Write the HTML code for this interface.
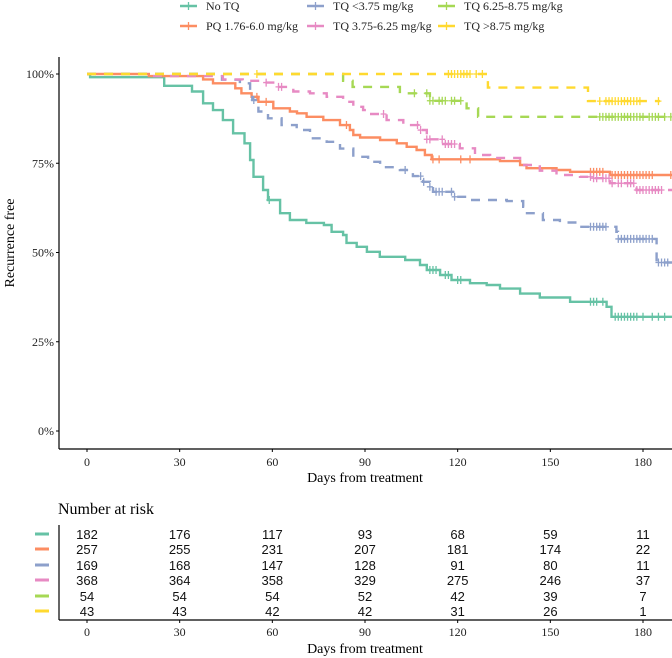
<!DOCTYPE html>
<html><head><meta charset="utf-8">
<style>
html,body{margin:0;padding:0;background:#fff;}
svg{display:block;}
.serif{font-family:"Liberation Serif",serif;}
.sans{font-family:"Liberation Sans",sans-serif;}
</style></head>
<body>
<svg id="chart" width="672" height="658" viewBox="0 0 672 658" xmlns="http://www.w3.org/2000/svg">
<g id="legend"></g>
<g id="plot"></g>
<g id="risk"></g>
</svg>
<script>
// ---- data ----
const seriesNames = ["No TQ","PQ 1.76-6.0 mg/kg","TQ <3.75 mg/kg","TQ 3.75-6.25 mg/kg","TQ 6.25-8.75 mg/kg","TQ >8.75 mg/kg"];
const seriesColors = ["#66c2a5","#fc8d62","#8da0cb","#e78ac3","#a6d854","#ffd92f"];
const seriesDashed = [false,false,true,true,true,true];
const endDays = [189.4,189.4,189.4,189.4,189.4,185.5];

const noTqTimes = [1,25,34,37.6,40.8,44,47.3,51,52.8,53.9,57,58.6,62.5,65.7,71,76.7,79.2,82.9,84,87.3,90.6,94.8,103,107.8,110,114.3,118,124,129.4,133.7,140.2,146.6,156.4,168.2,169.8];
const noTqSurv = [99.1,96.7,95.1,91.8,89.9,87.1,83.4,80.6,75.9,71.2,67.5,64.7,61,59.1,58.3,57.7,55.8,54.9,52.7,51.6,50.2,48.8,47.9,46.5,45.1,43.7,42.3,41.4,40.9,39.9,38.5,37.4,36.2,34.8,32];
const noTqCens = [59,111,112,113,116,117,120,121,163,164,165,167,171,172,173,174,175,176,177,178,180,183,185,187];

const pqTimes = [20,37.6,40.8,48,50,53.3,55.5,60.3,65.7,68,71.1,76.5,81.9,85.1,86.2,88.4,94.9,100.3,103.5,106.7,109.4,111.6,133.7,140.2,142.3,152,156.4,169.3];
const pqSurv = [99.4,98.5,97.4,96,94.6,93.6,92.2,90.4,89.5,89,88,87.1,85.7,84.3,82.9,82.2,81.5,80.6,79.6,78.7,77.3,76.1,75.6,74.5,73.6,73.1,72.6,71.7];
const pqCens = [55,58,84,112,114,121,124,163,164,165,166,167,170,171,172,173,174,175,176,177,178,179,180,181,182,183,189];

const tq1Times = [43.7,49.5,52.8,53.5,55.5,58.6,63,67.9,72.2,77.6,81.9,86.2,91,94.9,101.3,105.5,108.8,111,112,118.5,124,135.9,141.2,142,147.6,153.1,158.5,171.4,171.9,184.4];
const tq1Surv = [98.4,97.4,94.1,92.7,89.5,87.6,85.7,84.3,82,81,79.1,76.8,75.4,73.9,73.1,71.4,69.8,68.4,67,65.6,64.7,64.4,62.8,61,59.1,58.4,57.2,55.8,53.8,47.2];
const tq1Cens = [54,103,108,109,111,113,114,115,118,119,163,164,165,166,167,168,172,173,174,175,176,177,178,179,180,181,182,183,185,186,187,188];

const tq2Times = [20,44,50.4,56,61.4,66.8,72.2,77.6,82.9,86.2,89.4,91.6,97,102.4,107.2,110,115.3,120.7,125.6,130.5,140.2,146.6,152,159.6,163.8,169.3,177.9];
const tq2Surv = [99.4,98.5,98.1,97.6,96.4,95.1,94.6,93.6,92.2,90.8,89.9,88.8,87.1,85.7,84.3,81.7,80.4,79.2,77.3,76.5,74.5,72.9,71.7,71.2,70.8,69.4,67.5];
const tq2Cens = [58,62,63,96,107,108,110,111,115,116,117,118,119,163,164,165,167,168,169,170,172,173,175,176,177,178,179,180,181,182,183,184,185,186];

const tq3Times = [82.9,86,101.3,111,122.9,126.6];
const tq3Surv = [98.1,96.4,94.6,92.5,90.4,88];
const tq3Cens = [106,110,111,112,114,115,116,118,119,121,166,167,168,169,170,171,172,173,174,175,176,177,178,179,180,182,183,184,185,187,189];

const tq4Times = [129.8,162.2];
const tq4Surv = [96.2,92.4];
const tq4Cens = [55,117,118,119,120,121,122,123,124,126,128,166,168,169,170,171,172,173,174,175,176,177,178,179,185];

const allTimes = [noTqTimes,pqTimes,tq1Times,tq2Times,tq3Times,tq4Times];
const allSurv = [noTqSurv,pqSurv,tq1Surv,tq2Surv,tq3Surv,tq4Surv];
const allCens = [noTqCens,pqCens,tq1Cens,tq2Cens,tq3Cens,tq4Cens];

const xTickValues = [0,30,60,90,120,150,180];
const yTickValues = [0,25,50,75,100];
const yTickLabels = ["0%","25%","50%","75%","100%"];
const riskNoTq = [182,176,117,93,68,59,11];
const riskPq = [257,255,231,207,181,174,22];
const riskTq1 = [169,168,147,128,91,80,11];
const riskTq2 = [368,364,358,329,275,246,37];
const riskTq3 = [54,54,54,52,42,39,7];
const riskTq4 = [43,43,42,42,31,26,1];
const riskRows = [riskNoTq,riskPq,riskTq1,riskTq2,riskTq3,riskTq4];

// ---- scales ----
const NS="http://www.w3.org/2000/svg";
const xS = d => 87 + d*(643-87)/180;
const yS = s => 431 - s*3.57;
function mk(tag, attrs, parent){const e=document.createElementNS(NS,tag);for(const k in attrs)e.setAttribute(k,attrs[k]);parent.appendChild(e);return e;}
function stepSurv(times,surv,t){let s=100;for(let i=0;i<times.length;i++){if(times[i]<=t)s=surv[i];}return s;}

const plot=document.getElementById('plot');
// axes
let ax=mk('line',{x1:59,y1:449,x2:672,y2:449,stroke:'#000','stroke-width':1.2},plot);


let ay=mk('line',{x1:59,y1:57,x2:59,y2:449,stroke:'#000','stroke-width':1.2},plot);


xTickValues.forEach(v=>{
  mk('line',{x1:xS(v),y1:449,x2:xS(v),y2:452,stroke:'#000'},plot);
  const t=mk('text',{x:xS(v),y:466,'text-anchor':'middle','font-size':12,class:'serif',fill:'#222'},plot);
  t.textContent=v;
  
  
});
yTickValues.forEach((v,i)=>{
  mk('line',{x1:56,y1:yS(v),x2:59,y2:yS(v),stroke:'#000'},plot);
  const t=mk('text',{x:54,y:yS(v)+4,'text-anchor':'end','font-size':12,class:'serif',fill:'#222'},plot);
  t.textContent=yTickLabels[i];
  
  
});
let xt=mk('text',{x:365,y:482,'text-anchor':'middle','font-size':14,class:'serif'},plot);
xt.textContent='Days from treatment';


let yt=mk('text',{x:0,y:0,'text-anchor':'middle','font-size':14,class:'serif',transform:'translate(14,243) rotate(-90)'},plot);
yt.textContent='Recurrence free';



// curves
for(let k=0;k<6;k++){
  const times=allTimes[k], surv=allSurv[k];
  let d='M'+xS(0)+','+yS(100);
  let prev=100;
  for(let i=0;i<times.length;i++){
    d+=' H'+xS(times[i]).toFixed(1)+' V'+yS(surv[i]).toFixed(1);
    prev=surv[i];
  }
  d+=' H'+xS(endDays[k]).toFixed(1);
  const p=mk('path',{d:d,fill:'none',stroke:seriesColors[k],'stroke-width':2.4,'stroke-dasharray':seriesDashed[k]?'9,8':'none'},plot);
  
  
  allCens[k].forEach(c=>{
    const s=stepSurv(times,surv,c);
    const cx=xS(c), cy=yS(s);
    const m=mk('path',{d:'M'+(cx-3)+','+cy+' H'+(cx+3)+' M'+cx+','+(cy-4)+' V'+(cy+4),stroke:seriesColors[k],'stroke-width':1.3,fill:'none'},plot);
    
    
  });
}

// legend
const legend=document.getElementById('legend');
const legKeyX=[180,307,438], legRowY=[6,26];
for(let k=0;k<6;k++){
  const col=k%3===0?0:(k<3?k:k-3);
  const cIdx=[0,1,2,0,1,2][k];
  const rIdx=[0,1,0,1,0,1][k];
  // order: row1: No TQ, TQ<3.75, TQ6.25 ; row2: PQ, TQ3.75, TQ>8.75
  const order=[[0,0],[0,1],[1,0],[1,1],[2,0],[2,1]];
  const [cc,rr]=order[k];
  const kx=legKeyX[cc], ky=legRowY[rr];
  const g=mk('g',{},legend);
  
  
  mk('line',{x1:kx,y1:ky,x2:kx+17,y2:ky,stroke:seriesColors[k],'stroke-width':2.4},g);
  mk('line',{x1:kx+8.5,y1:ky-4,x2:kx+8.5,y2:ky+4,stroke:seriesColors[k],'stroke-width':1.3},g);
  const t=mk('text',{x:kx+26,y:ky+4,'font-size':12,class:'serif',fill:'#222'},g);
  t.textContent=seriesNames[k];
}

// risk table
const risk=document.getElementById('risk');
let rt=mk('text',{x:58,y:514,'font-size':16,class:'serif'},risk);
rt.textContent='Number at risk';


mk('line',{x1:59,y1:525,x2:59,y2:620,stroke:'#000','stroke-width':1.2},risk);
mk('line',{x1:59,y1:620,x2:672,y2:620,stroke:'#000','stroke-width':1.2},risk);
const rowY=[534,549,565,580,596,611];
riskRows.forEach((row,r)=>{
  const key=mk('rect',{x:35,y:rowY[r]-1.5,width:14,height:3,fill:seriesColors[r]},risk);
  
  
  row.forEach((v,i)=>{
    const t=mk('text',{x:xS(xTickValues[i]),y:rowY[r]+5,'text-anchor':'middle','font-size':13,class:'sans',fill:'#111'},risk);
    t.textContent=v;
    
    
  });
});
xTickValues.forEach(v=>{
  mk('line',{x1:xS(v),y1:620,x2:xS(v),y2:623,stroke:'#000'},risk);
  const t=mk('text',{x:xS(v),y:636,'text-anchor':'middle','font-size':12,class:'serif',fill:'#222'},risk);
  t.textContent=v;
  
  
});
let rx=mk('text',{x:365,y:653,'text-anchor':'middle','font-size':14,class:'serif'},risk);
rx.textContent='Days from treatment';


</script>
</body></html>
